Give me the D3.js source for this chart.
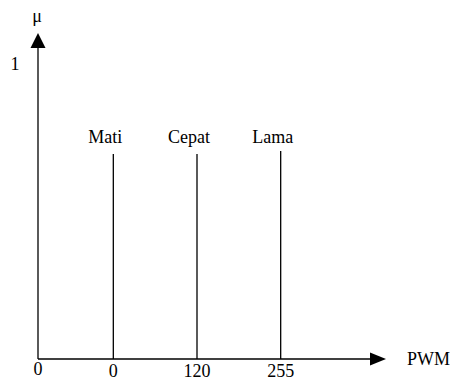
<!DOCTYPE html>
<html>
<head>
<meta charset="utf-8">
<script src="https://cdn.jsdelivr.net/npm/d3@7"></script>
<style>
  body { margin: 0; background: #fff; }
  svg { display: block; }
  text { font-family: "Liberation Serif", "Times New Roman", "DejaVu Serif", serif; }
</style>
</head>
<body>
<script>
// singleton membership of PWM output
const categories = ["Mati", "Cepat", "Lama"];
const pwmTicks = ["0", "120", "255"];
const mu = [0.70, 0.70, 0.71];

const width = 451, height = 380;
const x0 = 38, y0 = 359;
const font = "'Liberation Serif', 'Times New Roman', serif";

const svg = d3.select("body").append("svg")
  .attr("width", width)
  .attr("height", height);

const x = d3.scalePoint()
  .domain(categories)
  .range([x0, 356])
  .padding(0.9);

const y = d3.scaleLinear()
  .domain([0, 1])
  .range([y0, 66]);

// axes with arrow heads
svg.append("line")
  .attr("x1", x0).attr("y1", y0).attr("x2", 372).attr("y2", y0)
  .attr("stroke", "#000").attr("stroke-width", 1.3);
svg.append("path")
  .attr("d", `M370,${y0 - 6.5}L386,${y0}L370,${y0 + 6.5}Z`)
  .attr("fill", "#000");

svg.append("line")
  .attr("x1", x0).attr("y1", y0).attr("x2", x0).attr("y2", 46)
  .attr("stroke", "#000").attr("stroke-width", 1.3);
svg.append("path")
  .attr("d", `M${x0 - 7.5},48L${x0},33L${x0 + 7.5},48Z`)
  .attr("fill", "#000");

const txt = (s, tx, ty, anchor) => svg.append("text")
  .attr("x", tx).attr("y", ty)
  .attr("text-anchor", anchor || "middle")
  .attr("font-family", font)
  .attr("font-size", 18)
  .attr("fill", "#000")
  .text(s);

txt("\u03bc", 37, 22);
txt("1", 15, y(1) + 4);
txt("0", x0, 375);
txt("PWM", 407, 365, "start");

// singleton lines
svg.append("g").selectAll("line")
  .data(categories)
  .join("line")
  .attr("x1", d => x(d)).attr("x2", d => x(d))
  .attr("y1", y0)
  .attr("y2", (d, i) => y(mu[i]))
  .attr("stroke", "#000").attr("stroke-width", 1.3);

svg.append("g").selectAll("text")
  .data(categories)
  .join("text")
  .attr("x", d => x(d) - 8)
  .attr("y", 143)
  .attr("text-anchor", "middle")
  .attr("font-family", font)
  .attr("font-size", 18)
  .text(d => d);

svg.append("g").selectAll("text")
  .data(categories)
  .join("text")
  .attr("x", d => x(d))
  .attr("y", 377)
  .attr("text-anchor", "middle")
  .attr("font-family", font)
  .attr("font-size", 18)
  .text((d, i) => pwmTicks[i]);
</script>
</body>
</html>
